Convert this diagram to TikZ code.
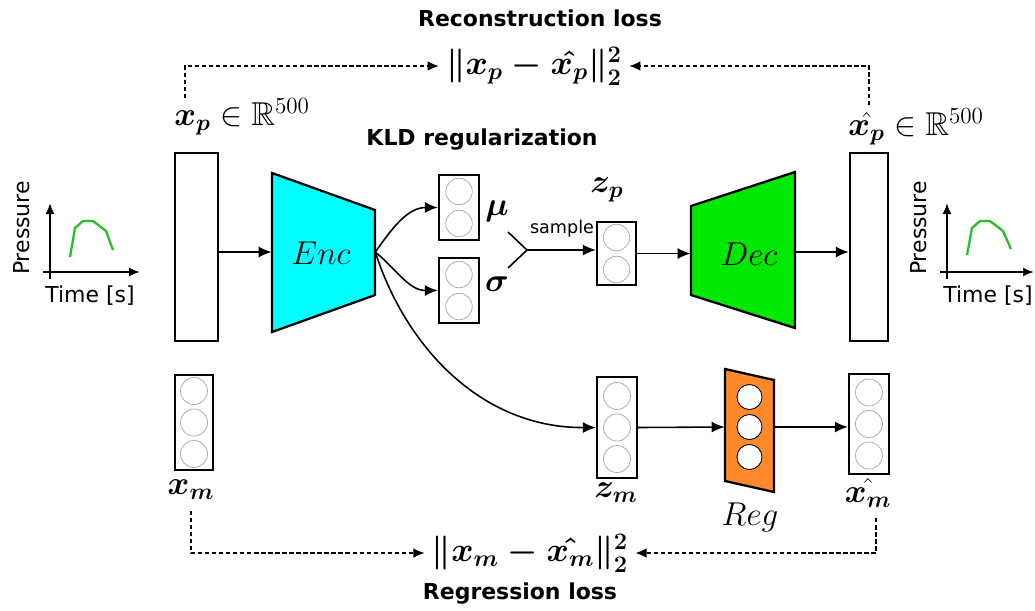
\documentclass[tikz,border=0pt]{standalone}
\usepackage{fix-cm}
\usepackage{fontspec}
\usepackage{amsmath,amssymb}
\usetikzlibrary{arrows.meta}
\newfontfamily\dvs{DejaVu Sans}
\definecolor{enccol}{RGB}{0,255,255}
\definecolor{deccol}{RGB}{0,232,0}
\definecolor{regcol}{RGB}{255,137,43}
\definecolor{curvecol}{RGB}{40,190,40}
\begin{document}
\begin{tikzpicture}[x=0.02cm,y=-0.02cm,
  box/.style={draw, line width=1.3pt, fill=white, inner sep=0pt},
  arr/.style={-{Latex[length=2.6mm,width=2.2mm]}, line width=0.9pt},
  darr/.style={-{Latex[length=2.2mm,width=1.9mm]}, line width=0.6pt, dash pattern=on 2.5pt off 1.5pt},
  neuron/.style={draw=gray!70, line width=0.4pt},
  mlab/.style={font=\fontsize{18.8}{22}\selectfont, inner sep=0pt},
  losslab/.style={font=\fontsize{19.3}{23}\selectfont, inner sep=4pt},
  ttl/.style={font=\dvs\bfseries\fontsize{12.5}{15}\selectfont, inner sep=0pt},
  axlab/.style={font=\dvs\fontsize{12.5}{15}\selectfont, inner sep=0pt},
  ax/.style={-{Latex[length=2.2mm,width=1.8mm]}, line width=1.1pt},
  shape3/.style={line width=1.3pt}
]
\useasboundingbox (0,0) rectangle (1035,610);

% titles
\node[ttl] (trec) at (540,18) {Reconstruction loss};
\node[ttl] (tkld) at (482,140) {KLD regularization};
\node[ttl] (treg) at (520,594) {Regression loss};

% big input/output vectors
\node[box, minimum width=0.86cm, minimum height=3.76cm] (xp) at (196.5,247) {};
\node[box, minimum width=0.76cm, minimum height=3.76cm] (xph) at (869,247) {};

% encoder
\draw[shape3, fill=enccol] (272,173) -- (375,210) -- (375,295) -- (272,332) -- cycle;
\node[inner sep=0pt, minimum width=2.06cm] (enc) at (323.5,252) {};
\node[mlab] (encl) at (321,253) {$Enc$};

% decoder
\draw[shape3, fill=deccol] (691,206) -- (795,172) -- (795,328) -- (691,295) -- cycle;
\node[inner sep=0pt, minimum width=2.08cm] (dec) at (743,252) {};
\node[mlab] (decl) at (749,254) {$Dec$};

% regressor
\draw[shape3, fill=regcol] (725,369) -- (774,380) -- (774,492) -- (725,481) -- cycle;
\node[inner sep=0pt, minimum width=0.98cm, minimum height=1.6cm] (reg) at (749.5,427) {};
\foreach \dy in {-0.6cm,0cm,0.6cm}
  \draw[fill=white, line width=0.5pt] ([yshift=\dy]reg.center) circle[radius=0.25cm];

% small vectors
\node[box, minimum width=0.8cm, minimum height=1.3cm] (mu) at (459,207.5) {};
\node[box, minimum width=0.8cm, minimum height=1.3cm] (sig) at (459,290.5) {};
\node[box, minimum width=0.78cm, minimum height=1.26cm] (zp) at (616.5,253.5) {};
\node[box, minimum width=0.76cm, minimum height=1.9cm] (xm) at (194,422.5) {};
\node[box, minimum width=0.8cm, minimum height=2.02cm] (zm) at (617,427.5) {};
\node[box, minimum width=0.8cm, minimum height=2.0cm] (xmh) at (869,424) {};

\foreach \n in {mu,sig,zp}{
  \draw[neuron] ([yshift=0.32cm]\n.center) circle[radius=0.265cm];
  \draw[neuron] ([yshift=-0.32cm]\n.center) circle[radius=0.265cm];
}
\foreach \n in {xm,zm,xmh}{
  \foreach \dy in {-0.63cm,0cm,0.63cm}
    \draw[neuron] ([yshift=\dy]\n.center) circle[radius=0.27cm];
}

% labels
\node[mlab, anchor=west] (xpl) at (174,117) {$\boldsymbol{x_p} \in \mathbb{R}^{500}$};
\node[mlab, anchor=west] (xphl) at (848,127) {$\hat{\boldsymbol{x_p}} \in \mathbb{R}^{500}$};
\node[mlab] (mul) at (497,211) {$\boldsymbol{\mu}$};
\node[mlab] (sigl) at (497,284) {$\boldsymbol{\sigma}$};
\node[mlab] (zpl) at (607,190) {$\boldsymbol{z_p}$};
\node[mlab] (xml) at (191,490) {$\boldsymbol{x_m}$};
\node[mlab] (zml) at (616,493) {$\boldsymbol{z_m}$};
\node[mlab] (xmhl) at (868,493) {$\hat{\boldsymbol{x_m}}$};
\node[mlab] (regl) at (750,517) {$Reg$};
\node[losslab] (lossp) at (534,66) {$\boldsymbol{\|x_p - \hat{x_p}\|_2^2}$};
\node[losslab] (lossm) at (530,553) {$\boldsymbol{\|x_m - \hat{x_m}\|_2^2}$};
\node[font=\dvs\fontsize{10}{12}\selectfont, inner sep=0pt] (smpl) at (562,229) {sample};

% main arrows
\draw[arr] (xp.east |- enc) -- (enc.west);
\draw[arr] (enc.east) to[out=55, in=180] (mu.west);
\draw[arr] (enc.east) to[out=-40, in=180] (sig.west);
\draw[arr] (enc.east) .. controls (405,345) and (480,428) .. (zm.west);
\coordinate (smp) at (527,250);
\draw[line width=0.9pt] (508,232) -- (smp) -- (508,268);
\draw[arr] (smp) -- (smp -| zp.west);
\draw[arr] (zp.east) -- (zp.east -| dec.west);
\draw[arr] (dec.east) -- (dec.east -| xph.west);
\draw[arr] (zm.east) -- (reg.west);
\draw[arr] (reg.east) -- (reg.east -| xmh.west);

% loss connectors
\draw[darr] ([xshift=0.22cm]xpl.north west) |- (lossp.west);
\draw[darr] ([yshift=2pt]xphl.north -| xph) |- (lossp.east);
\draw[darr] ([yshift=-6pt]xml.south) |- (lossm.west);
\draw[darr] ([xshift=0.16cm,yshift=-6pt]xmhl.south) |- (lossm.east);

% pressure plots
\draw[ax] (43,272) -- (140,272);
\draw[ax] (50,279) -- (50,203);
\draw[curvecol, line width=1.3pt] (70,257) -- (75,228) -- (83,221) -- (93,221) -- (106,231) -- (113,250);
\node[axlab, rotate=90] (pl1) at (22,228) {Pressure};
\node[axlab] (tl1) at (90,296) {Time [s]};

\draw[ax] (940,272) -- (1034,272);
\draw[ax] (947,279) -- (947,203);
\draw[curvecol, line width=1.3pt] (967,255) -- (972,228) -- (980,221) -- (990,221) -- (1003,231) -- (1011,249);
\node[axlab, rotate=90] (pl2) at (919,228) {Pressure};
\node[axlab] (tl2) at (988,296) {Time [s]};
\end{tikzpicture}
\end{document}
